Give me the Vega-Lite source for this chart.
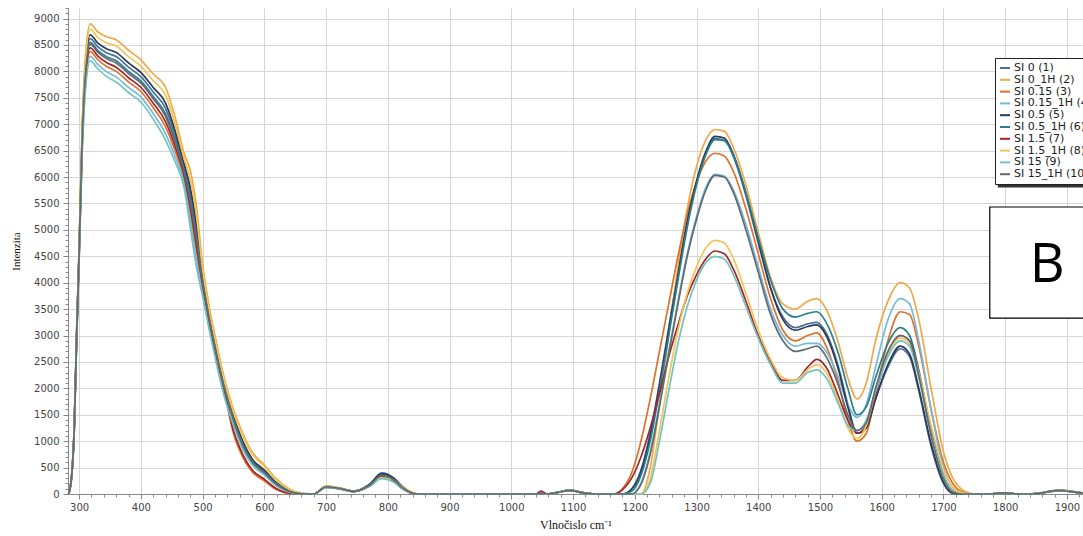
{
"$schema": "https://vega.github.io/schema/vega-lite/v6.json",
"width": 1015, "height": 486,
"autosize": {"type": "none"},
"padding": {"left": 68, "top": 8, "right": 0, "bottom": 42},
"background": "white",
"config": {"view": {"stroke": null}, "font": "DejaVu Sans"},
"datasets": {
"names": [{"k":"s1","name":"SI 0 (1)"},{"k":"s2","name":"SI 0_1H (2)"},{"k":"s3","name":"SI 0.15  (3)"},{"k":"s4","name":"SI 0.15_1H (4)"},{"k":"s5","name":"SI 0.5 (5)"},{"k":"s6","name":"SI 0.5_1H (6)"},{"k":"s7","name":"SI 1.5 (7)"},{"k":"s8","name":"SI 1.5_1H (8)"},{"k":"s9","name":"SI 15 (9)"},{"k":"s10","name":"SI 15_1H (10)"}],
"boxB": [{"x":1775,"xe":2100,"y":3331,"ye":5433}],
"textB": [{"x":1868,"y":4013,"label":"B"}],
"shadow": [{"x":1788,"xe":2100,"y":5800,"ye":8190}],
"spectra": [
{"x":283,"s1":0,"s2":0,"s3":0,"s4":0,"s5":0,"s6":0,"s7":0,"s8":0,"s9":0,"s10":0},
{"x":288,"s1":354,"s2":370,"s3":340,"s4":335,"s5":358,"s6":350,"s7":344,"s8":364,"s9":330,"s10":348},
{"x":292,"s1":1210,"s2":1250,"s3":1175,"s4":1162,"s5":1220,"s6":1200,"s7":1185,"s8":1235,"s9":1150,"s10":1195},
{"x":296,"s1":3020,"s2":3100,"s3":2950,"s4":2924,"s5":3040,"s6":3000,"s7":2970,"s8":3070,"s9":2900,"s10":2990},
{"x":300,"s1":4580,"s2":4700,"s3":4475,"s4":4436,"s5":4610,"s6":4550,"s7":4505,"s8":4655,"s9":4400,"s10":4535},
{"x":305,"s1":6780,"s2":7000,"s3":6588,"s4":6516,"s5":6835,"s6":6725,"s7":6643,"s8":6918,"s9":6450,"s10":6698},
{"x":310,"s1":7990,"s2":8250,"s3":7763,"s4":7678,"s5":8055,"s6":7925,"s7":7828,"s8":8153,"s9":7600,"s10":7893},
{"x":318,"s1":8620,"s2":8900,"s3":8375,"s4":8284,"s5":8690,"s6":8550,"s7":8445,"s8":8795,"s9":8200,"s10":8515},
{"x":330,"s1":8470,"s2":8750,"s3":8225,"s4":8134,"s5":8540,"s6":8400,"s7":8295,"s8":8645,"s9":8050,"s10":8365},
{"x":345,"s1":8350,"s2":8650,"s3":8088,"s4":7990,"s5":8425,"s6":8275,"s7":8163,"s8":8538,"s9":7900,"s10":8238},
{"x":360,"s1":8280,"s2":8600,"s3":8000,"s4":7896,"s5":8360,"s6":8200,"s7":8080,"s8":8480,"s9":7800,"s10":8160},
{"x":380,"s1":8080,"s2":8400,"s3":7800,"s4":7696,"s5":8160,"s6":8000,"s7":7880,"s8":8280,"s9":7600,"s10":7960},
{"x":400,"s1":7900,"s2":8220,"s3":7620,"s4":7516,"s5":7980,"s6":7820,"s7":7700,"s8":8100,"s9":7420,"s10":7780},
{"x":420,"s1":7610,"s2":7950,"s3":7313,"s4":7202,"s5":7695,"s6":7525,"s7":7398,"s8":7823,"s9":7100,"s10":7483},
{"x":440,"s1":7300,"s2":7700,"s3":6950,"s4":6820,"s5":7400,"s6":7200,"s7":7050,"s8":7550,"s9":6700,"s10":7150},
{"x":455,"s1":6810,"s2":7150,"s3":6513,"s4":6402,"s5":6895,"s6":6725,"s7":6598,"s8":7023,"s9":6300,"s10":6683},
{"x":470,"s1":6190,"s2":6450,"s3":5963,"s4":5878,"s5":6255,"s6":6125,"s7":6028,"s8":6353,"s9":5800,"s10":6093},
{"x":480,"s1":5698,"s2":6130,"s3":5320,"s4":5180,"s5":5806,"s6":5590,"s7":5428,"s8":5968,"s9":5050,"s10":5536},
{"x":490,"s1":4990,"s2":5450,"s3":4588,"s4":4438,"s5":5105,"s6":4875,"s7":4703,"s8":5278,"s9":4300,"s10":4818},
{"x":500,"s1":4106,"s2":4350,"s3":3893,"s4":3813,"s5":4167,"s6":4045,"s7":3954,"s8":4259,"s9":3740,"s10":4015},
{"x":510,"s1":3420,"s2":3600,"s3":3263,"s4":3204,"s5":3465,"s6":3375,"s7":3308,"s8":3533,"s9":3150,"s10":3353},
{"x":520,"s1":2840,"s2":3000,"s3":2700,"s4":2648,"s5":2880,"s6":2800,"s7":2740,"s8":2940,"s9":2600,"s10":2780},
{"x":535,"s1":2060,"s2":2200,"s3":1938,"s4":1892,"s5":2095,"s6":2025,"s7":1973,"s8":2148,"s9":1850,"s10":2008},
{"x":550,"s1":1460,"s2":1600,"s3":1150,"s4":1320,"s5":1480,"s6":1420,"s7":1200,"s8":1550,"s9":1300,"s10":1400},
{"x":565,"s1":980,"s2":1150,"s3":700,"s4":870,"s5":1000,"s6":940,"s7":750,"s8":1100,"s9":850,"s10":920},
{"x":580,"s1":650,"s2":800,"s3":420,"s4":570,"s5":670,"s6":620,"s7":460,"s8":760,"s9":560,"s10":610},
{"x":600,"s1":430,"s2":550,"s3":250,"s4":370,"s5":450,"s6":410,"s7":280,"s8":520,"s9":360,"s10":400},
{"x":620,"s1":200,"s2":280,"s3":80,"s4":160,"s5":210,"s6":190,"s7":100,"s8":260,"s9":150,"s10":180},
{"x":640,"s1":60,"s2":100,"s3":10,"s4":40,"s5":65,"s6":55,"s7":15,"s8":90,"s9":35,"s10":50},
{"x":660,"s1":5,"s2":15,"s3":0,"s4":0,"s5":5,"s6":5,"s7":0,"s8":10,"s9":0,"s10":5},
{"x":680,"s1":0,"s2":0,"s3":0,"s4":0,"s5":0,"s6":0,"s7":0,"s8":0,"s9":0,"s10":0},
{"x":700,"s1":140,"s2":150,"s3":130,"s4":130,"s5":145,"s6":135,"s7":125,"s8":150,"s9":120,"s10":135},
{"x":720,"s1":110,"s2":120,"s3":100,"s4":105,"s5":115,"s6":110,"s7":100,"s8":120,"s9":100,"s10":110},
{"x":745,"s1":50,"s2":55,"s3":45,"s4":50,"s5":55,"s6":50,"s7":45,"s8":55,"s9":45,"s10":50},
{"x":770,"s1":170,"s2":150,"s3":160,"s4":150,"s5":180,"s6":160,"s7":150,"s8":150,"s9":140,"s10":160},
{"x":790,"s1":400,"s2":320,"s3":330,"s4":300,"s5":380,"s6":340,"s7":330,"s8":310,"s9":290,"s10":350},
{"x":810,"s1":300,"s2":270,"s3":240,"s4":230,"s5":290,"s6":250,"s7":230,"s8":260,"s9":220,"s10":260},
{"x":825,"s1":130,"s2":130,"s3":100,"s4":100,"s5":120,"s6":110,"s7":90,"s8":120,"s9":90,"s10":110},
{"x":845,"s1":5,"s2":10,"s3":0,"s4":0,"s5":5,"s6":5,"s7":0,"s8":10,"s9":0,"s10":5},
{"x":860,"s1":0,"s2":0,"s3":0,"s4":0,"s5":0,"s6":0,"s7":0,"s8":0,"s9":0,"s10":0},
{"x":1040,"s1":0,"s2":0,"s3":0,"s4":0,"s5":0,"s6":0,"s7":0,"s8":0,"s9":0,"s10":0},
{"x":1048,"s1":10,"s2":10,"s3":40,"s4":10,"s5":10,"s6":10,"s7":55,"s8":10,"s9":10,"s10":10},
{"x":1058,"s1":0,"s2":0,"s3":0,"s4":0,"s5":0,"s6":0,"s7":0,"s8":0,"s9":0,"s10":0},
{"x":1075,"s1":30,"s2":30,"s3":30,"s4":30,"s5":30,"s6":30,"s7":30,"s8":30,"s9":30,"s10":30},
{"x":1095,"s1":70,"s2":80,"s3":75,"s4":65,"s5":70,"s6":75,"s7":80,"s8":75,"s9":70,"s10":70},
{"x":1115,"s1":25,"s2":25,"s3":25,"s4":25,"s5":25,"s6":25,"s7":25,"s8":25,"s9":25,"s10":25},
{"x":1135,"s1":0,"s2":0,"s3":0,"s4":0,"s5":0,"s6":0,"s7":0,"s8":0,"s9":0,"s10":0},
{"x":1165,"s1":0,"s2":0,"s3":0,"s4":0,"s5":0,"s6":0,"s7":0,"s8":0,"s9":0,"s10":0},
{"x":1180,"s1":0,"s2":0,"s3":100,"s4":0,"s5":0,"s6":0,"s7":80,"s8":0,"s9":0,"s10":0},
{"x":1195,"s1":100,"s2":0,"s3":400,"s4":0,"s5":90,"s6":50,"s7":300,"s8":0,"s9":0,"s10":0},
{"x":1210,"s1":450,"s2":0,"s3":1000,"s4":200,"s5":420,"s6":350,"s7":700,"s8":0,"s9":0,"s10":180},
{"x":1225,"s1":1150,"s2":500,"s3":1800,"s4":800,"s5":1100,"s6":1000,"s7":1250,"s8":300,"s9":200,"s10":750},
{"x":1240,"s1":2100,"s2":1700,"s3":2700,"s4":1700,"s5":2050,"s6":1950,"s7":1900,"s8":1200,"s9":1000,"s10":1650},
{"x":1255,"s1":3150,"s2":3000,"s3":3600,"s4":2700,"s5":3100,"s6":3000,"s7":2600,"s8":2200,"s9":1950,"s10":2650},
{"x":1270,"s1":4200,"s2":4300,"s3":4500,"s4":3650,"s5":4150,"s6":4050,"s7":3200,"s8":3100,"s9":2850,"s10":3600},
{"x":1285,"s1":5150,"s2":5400,"s3":5300,"s4":4550,"s5":5150,"s6":5050,"s7":3750,"s8":3800,"s9":3550,"s10":4500},
{"x":1300,"s1":5900,"s2":6200,"s3":5900,"s4":5250,"s5":5920,"s6":5850,"s7":4150,"s8":4300,"s9":4050,"s10":5200},
{"x":1315,"s1":6450,"s2":6700,"s3":6300,"s4":5800,"s5":6480,"s6":6420,"s7":4450,"s8":4650,"s9":4380,"s10":5750},
{"x":1330,"s1":6730,"s2":6900,"s3":6450,"s4":6050,"s5":6770,"s6":6710,"s7":4600,"s8":4800,"s9":4500,"s10":6030},
{"x":1345,"s1":6700,"s2":6870,"s3":6400,"s4":6020,"s5":6740,"s6":6690,"s7":4550,"s8":4750,"s9":4450,"s10":6000},
{"x":1360,"s1":6380,"s2":6550,"s3":6100,"s4":5750,"s5":6420,"s6":6400,"s7":4250,"s8":4450,"s9":4150,"s10":5700},
{"x":1380,"s1":5650,"s2":5850,"s3":5400,"s4":5100,"s5":5700,"s6":5700,"s7":3650,"s8":3800,"s9":3550,"s10":5000},
{"x":1400,"s1":4750,"s2":4950,"s3":4550,"s4":4300,"s5":4800,"s6":4850,"s7":3000,"s8":3100,"s9":2950,"s10":4200},
{"x":1420,"s1":3900,"s2":4100,"s3":3700,"s4":3500,"s5":3900,"s6":4050,"s7":2500,"s8":2550,"s9":2450,"s10":3400},
{"x":1440,"s1":3350,"s2":3600,"s3":3100,"s4":3000,"s5":3300,"s6":3500,"s7":2150,"s8":2200,"s9":2100,"s10":2900},
{"x":1460,"s1":3150,"s2":3500,"s3":2900,"s4":2800,"s5":3100,"s6":3350,"s7":2150,"s8":2150,"s9":2100,"s10":2700},
{"x":1480,"s1":3220,"s2":3650,"s3":3000,"s4":2850,"s5":3170,"s6":3420,"s7":2400,"s8":2350,"s9":2300,"s10":2750},
{"x":1495,"s1":3250,"s2":3700,"s3":3050,"s4":2850,"s5":3200,"s6":3450,"s7":2550,"s8":2450,"s9":2350,"s10":2800},
{"x":1510,"s1":3050,"s2":3500,"s3":2800,"s4":2700,"s5":3000,"s6":3250,"s7":2400,"s8":2300,"s9":2200,"s10":2600},
{"x":1530,"s1":2400,"s2":2850,"s3":2100,"s4":2200,"s5":2350,"s6":2650,"s7":1850,"s8":1750,"s9":1700,"s10":2050},
{"x":1545,"s1":1700,"s2":2200,"s3":1400,"s4":1700,"s5":1650,"s6":2000,"s7":1400,"s8":1250,"s9":1300,"s10":1500},
{"x":1560,"s1":1150,"s2":1800,"s3":1000,"s4":1450,"s5":1150,"s6":1500,"s7":1150,"s8":1050,"s9":1200,"s10":1200},
{"x":1575,"s1":1250,"s2":2100,"s3":1150,"s4":1700,"s5":1250,"s6":1650,"s7":1300,"s8":1300,"s9":1400,"s10":1350},
{"x":1590,"s1":1800,"s2":2900,"s3":1900,"s4":2400,"s5":1800,"s6":2200,"s7":1900,"s8":1950,"s9":1950,"s10":2000},
{"x":1610,"s1":2400,"s2":3650,"s3":2900,"s4":3300,"s5":2450,"s6":2850,"s7":2650,"s8":2650,"s9":2600,"s10":2700},
{"x":1630,"s1":2750,"s2":4000,"s3":3450,"s4":3700,"s5":2800,"s6":3150,"s7":3000,"s8":2950,"s9":2900,"s10":3000},
{"x":1645,"s1":2600,"s2":3900,"s3":3400,"s4":3600,"s5":2650,"s6":3000,"s7":2900,"s8":2850,"s9":2800,"s10":2900},
{"x":1660,"s1":1950,"s2":3300,"s3":2800,"s4":2900,"s5":2000,"s6":2350,"s7":2300,"s8":2300,"s9":2200,"s10":2250},
{"x":1680,"s1":900,"s2":2000,"s3":1600,"s4":1600,"s5":950,"s6":1200,"s7":1200,"s8":1300,"s9":1150,"s10":1100},
{"x":1700,"s1":200,"s2":800,"s3":600,"s4":500,"s5":220,"s6":350,"s7":350,"s8":450,"s9":350,"s10":280},
{"x":1715,"s1":10,"s2":300,"s3":200,"s4":120,"s5":15,"s6":50,"s7":60,"s8":120,"s9":60,"s10":30},
{"x":1730,"s1":0,"s2":80,"s3":40,"s4":20,"s5":0,"s6":0,"s7":0,"s8":20,"s9":0,"s10":0},
{"x":1745,"s1":0,"s2":10,"s3":0,"s4":0,"s5":0,"s6":0,"s7":0,"s8":0,"s9":0,"s10":0},
{"x":1760,"s1":0,"s2":0,"s3":0,"s4":0,"s5":0,"s6":0,"s7":0,"s8":0,"s9":0,"s10":0},
{"x":1780,"s1":5,"s2":5,"s3":5,"s4":5,"s5":5,"s6":5,"s7":5,"s8":5,"s9":5,"s10":5},
{"x":1800,"s1":20,"s2":20,"s3":20,"s4":20,"s5":20,"s6":20,"s7":20,"s8":20,"s9":20,"s10":20},
{"x":1815,"s1":5,"s2":5,"s3":5,"s4":5,"s5":5,"s6":5,"s7":5,"s8":5,"s9":5,"s10":5},
{"x":1840,"s1":0,"s2":0,"s3":0,"s4":0,"s5":0,"s6":0,"s7":0,"s8":0,"s9":0,"s10":0},
{"x":1860,"s1":20,"s2":25,"s3":20,"s4":20,"s5":20,"s6":20,"s7":20,"s8":25,"s9":20,"s10":20},
{"x":1875,"s1":55,"s2":65,"s3":55,"s4":50,"s5":55,"s6":55,"s7":50,"s8":60,"s9":50,"s10":55},
{"x":1890,"s1":70,"s2":80,"s3":70,"s4":65,"s5":70,"s6":70,"s7":65,"s8":75,"s9":65,"s10":70},
{"x":1905,"s1":50,"s2":55,"s3":50,"s4":45,"s5":50,"s6":50,"s7":45,"s8":55,"s9":45,"s10":50},
{"x":1926,"s1":15,"s2":20,"s3":15,"s4":15,"s5":15,"s6":15,"s7":15,"s8":20,"s9":15,"s10":15}
]
},
"encoding": {
"x": {"field": "x", "type": "quantitative",
"scale": {"domain": [282, 1926], "nice": false, "zero": false},
"axis": {"title": "Vlnočislo cm⁻¹", "titleFont": "Liberation Serif", "titleFontSize": 12, "titleFontWeight": "normal", "titleColor": "#111", "titlePadding": 7,
"values": [300,320,340,360,380,400,420,440,460,480,500,520,540,560,580,600,620,640,660,680,700,720,740,760,780,800,820,840,860,880,900,920,940,960,980,1000,1020,1040,1060,1080,1100,1120,1140,1160,1180,1200,1220,1240,1260,1280,1300,1320,1340,1360,1380,1400,1420,1440,1460,1480,1500,1520,1540,1560,1580,1600,1620,1640,1660,1680,1700,1720,1740,1760,1780,1800,1820,1840,1860,1880,1900,1920],
"format": "d",
"labelExpr": "datum.value % 100 === 0 ? datum.label : ''",
"labelOverlap": false, "labelFlush": false,
"labelFont": "DejaVu Sans", "labelFontSize": 10, "labelColor": "#444", "labelPadding": 3,
"grid": true, "gridColor": "#d6d6d6",
"gridOpacity": {"condition": {"test": "datum.value % 100 === 0", "value": 1}, "value": 0},
"tickSize": {"condition": {"test": "datum.value % 100 === 0", "value": 5}, "value": 3},
"tickColor": "#888", "domainColor": "#888"}},
"y": {"field": "y", "type": "quantitative",
"scale": {"domain": [0, 9200], "nice": false},
"axis": {"title": "Intenzita", "titleFont": "Liberation Serif", "titleFontSize": 11, "titleFontWeight": "normal", "titleColor": "#111", "titlePadding": 12,
"values": [0,100,200,300,400,500,600,700,800,900,1000,1100,1200,1300,1400,1500,1600,1700,1800,1900,2000,2100,2200,2300,2400,2500,2600,2700,2800,2900,3000,3100,3200,3300,3400,3500,3600,3700,3800,3900,4000,4100,4200,4300,4400,4500,4600,4700,4800,4900,5000,5100,5200,5300,5400,5500,5600,5700,5800,5900,6000,6100,6200,6300,6400,6500,6600,6700,6800,6900,7000,7100,7200,7300,7400,7500,7600,7700,7800,7900,8000,8100,8200,8300,8400,8500,8600,8700,8800,8900,9000,9100,9200],
"format": "d",
"labelExpr": "datum.value % 500 === 0 ? datum.label : ''",
"labelOverlap": false, "labelFlush": false,
"labelFont": "DejaVu Sans", "labelFontSize": 10, "labelColor": "#444", "labelPadding": 4,
"grid": true, "gridColor": "#d6d6d6",
"gridOpacity": {"condition": {"test": "datum.value % 500 === 0", "value": 1}, "value": 0},
"tickSize": {"condition": {"test": "datum.value % 500 === 0", "value": 5}, "value": 3},
"tickColor": "#888", "domainColor": "#888"}}
},
"layer": [
{
"data": {"name": "spectra"},
"transform": [
{"fold": ["s1","s2","s3","s4","s5","s6","s7","s8","s9","s10"], "as": ["k","y"]},
{"lookup": "k", "from": {"data": {"name": "names"}, "key": "k", "fields": ["name"]}}
],
"mark": {"type": "line", "strokeWidth": 1.7, "interpolate": "monotone"},
"encoding": {
"color": {"field": "name", "type": "nominal",
"scale": {"domain": ["SI 0 (1)","SI 0_1H (2)","SI 0.15  (3)","SI 0.15_1H (4)","SI 0.5 (5)","SI 0.5_1H (6)","SI 1.5 (7)","SI 1.5_1H (8)","SI 15 (9)","SI 15_1H (10)"],
"range": ["#4a6f9c","#f0a848","#e0702a","#78b8d8","#2b3a55","#2a7f8c","#a4262c","#f3c458","#70c4c4","#5f6b73"]},
"legend": {"orient": "none", "legendX": 927, "legendY": 50, "title": null, "strokeColor": "#222", "fillColor": "white", "padding": 4,
"labelFont": "DejaVu Sans", "labelFontSize": 11, "labelColor": "#222", "labelLimit": 300, "labelOffset": 3,
"symbolType": "stroke", "symbolSize": 100, "symbolStrokeWidth": 2, "rowPadding": 0.8}}
}
},
{
"data": {"name": "shadow"},
"mark": {"type": "rect", "fill": "#333", "stroke": null},
"encoding": {"x2": {"field": "xe"}, "y2": {"field": "ye"}}
},
{
"data": {"name": "boxB"},
"mark": {"type": "rect", "fill": "white", "stroke": "black", "strokeWidth": 1.2},
"encoding": {"x2": {"field": "xe"}, "y2": {"field": "ye"}}
},
{
"data": {"name": "textB"},
"mark": {"type": "text", "font": "Open Sans", "fontSize": 54, "color": "black", "align": "center", "baseline": "alphabetic"},
"encoding": {"text": {"field": "label"}}
}
]
}
